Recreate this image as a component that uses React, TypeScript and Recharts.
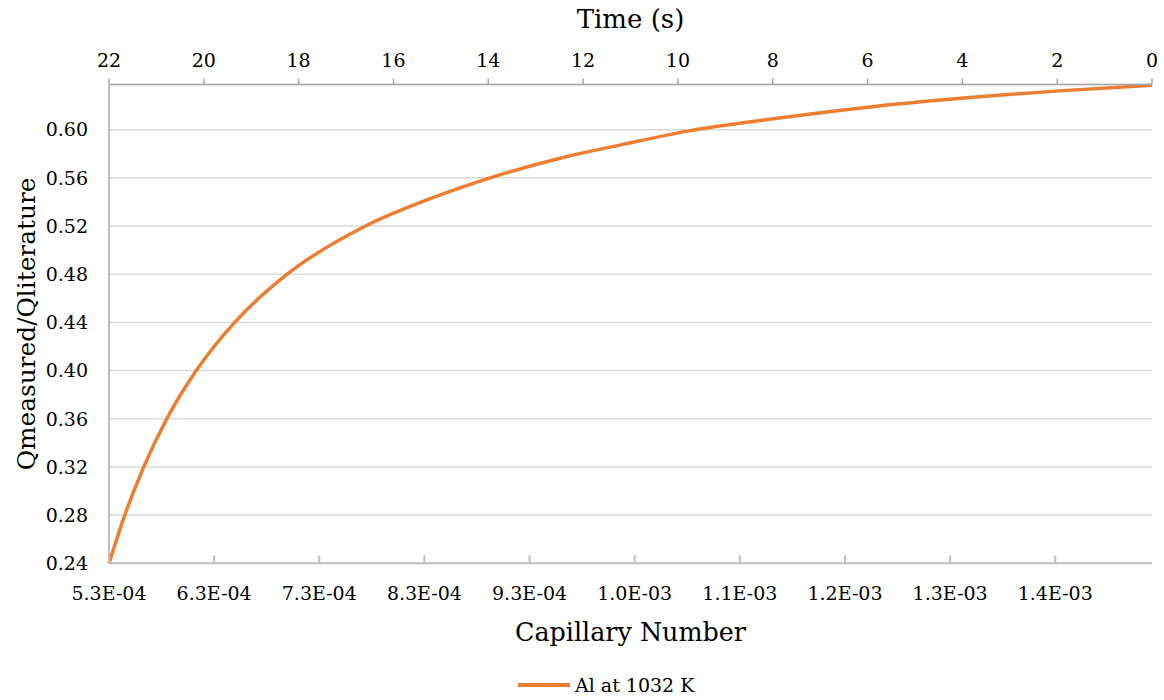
import React from "react";
import {
  LineChart,
  Line,
  XAxis,
  YAxis,
  CartesianGrid,
} from "recharts";

const capillary = [
  5.3e-4, 5.45e-4, 5.63e-4, 5.85e-4, 6.13e-4, 6.495e-4, 6.995e-4, 7.74e-4,
  8.35e-4, 8.925e-4, 9.6e-4, 1.02e-3, 1.083e-3, 1.15e-3, 1.25e-3, 1.34e-3,
  1.43e-3, 1.522e-3,
];
const ratio = [
  0.24, 0.28, 0.32, 0.36, 0.4, 0.44, 0.48, 0.52, 0.5425, 0.56, 0.5765, 0.588,
  0.5992, 0.6077, 0.6185, 0.626, 0.632, 0.6368,
];
const capTicks = [
  5.3e-4, 6.3e-4, 7.3e-4, 8.3e-4, 9.3e-4, 1.03e-3, 1.13e-3, 1.23e-3, 1.33e-3,
  1.43e-3,
];
const timeTicks = [22, 20, 18, 16, 14, 12, 10, 8, 6, 4, 2, 0];
const ratioTicks = [0.24, 0.28, 0.32, 0.36, 0.4, 0.44, 0.48, 0.52, 0.56, 0.6];

const seriesName = "Al at 1032 K";
const FONT = "'DejaVu Serif', serif";
const ORANGE = "#ED7D31";

const data = capillary.map((c, i) => ({ cap: c, q: ratio[i] }));

const sci = (v: number) => {
  const [m, e] = v.toExponential(1).split("e");
  const sign = e[0] === "-" ? "-" : "+";
  const digits = e.replace(/[-+]/, "").padStart(2, "0");
  return `${m}E${sign}${digits}`;
};

const tickStyle = { fontSize: 19, fill: "#000", fontFamily: FONT };

const App: React.FC = () => {
  return (
    <div style={{ position: "absolute", left: 0, top: 0, width: 1164, height: 700, background: "#fff", fontFamily: FONT }}>
      <LineChart
        width={1164}
        height={700}
        data={data}
        margin={{ top: 0, right: 12, bottom: 0, left: 0 }}
      >
        <CartesianGrid
          xAxisId="cap"
          vertical={false}
          stroke="#D9D9D9"
          strokeWidth={1.5}
        />
        <XAxis
          xAxisId="time"
          dataKey="time"
          orientation="top"
          type="number"
          domain={[0, 22]}
          allowDataOverflow
          reversed
          ticks={timeTicks}
          height={84.5}
          stroke="#A6A6A6"
          strokeWidth={1.5}
          tickSize={6}
          tickMargin={12}
          tick={tickStyle}
          label={({ viewBox }: any) => (
            <text
              x={viewBox.x + viewBox.width / 2}
              y={viewBox.y + 28}
              textAnchor="middle"
              fontSize={26}
              fontFamily={FONT}
              fill="#000"
            >
              Time (s)
            </text>
          )}
        />
        <XAxis
          xAxisId="cap"
          dataKey="cap"
          type="number"
          domain={[5.3e-4, 1.522e-3]}
          ticks={capTicks}
          tickFormatter={sci}
          height={136.7}
          stroke="#BFBFBF"
          strokeWidth={2}
          tickSize={-8}
          tickMargin={31}
          tick={tickStyle}
          label={({ viewBox }: any) => (
            <text
              x={viewBox.x + viewBox.width / 2}
              y={viewBox.y + 78}
              textAnchor="middle"
              fontSize={25.4}
              fontFamily={FONT}
              fill="#000"
            >
              Capillary Number
            </text>
          )}
        />
        <YAxis
          type="number"
          domain={[0.24, 0.6375]}
          ticks={ratioTicks}
          tickFormatter={(v: number) => v.toFixed(2)}
          width={109}
          stroke="#BFBFBF"
          strokeWidth={2}
          tickLine={false}
          tickSize={0}
          tickMargin={21}
          tick={tickStyle}
          label={({ viewBox }: any) => {
            const cx = viewBox.x + 27;
            const cy = viewBox.y + viewBox.height / 2;
            return (
              <text
                x={cx}
                y={cy}
                transform={`rotate(-90 ${cx} ${cy})`}
                textAnchor="middle"
                dominantBaseline="central"
                fontSize={24.8}
                fontFamily={FONT}
                fill="#000"
              >
                Qmeasured/Qliterature
              </text>
            );
          }}
        />
        <Line
          xAxisId="cap"
          type="monotone"
          dataKey="q"
          name={seriesName}
          stroke={ORANGE}
          strokeWidth={3.5}
          dot={false}
          activeDot={false}
          isAnimationActive={false}
        />
      </LineChart>
      <div
        style={{
          position: "absolute",
          left: 518,
          top: 671,
          height: 28,
          display: "flex",
          alignItems: "center",
          fontFamily: FONT,
          fontSize: 19,
          color: "#000",
        }}
      >
        <span
          style={{
            display: "inline-block",
            width: 52,
            height: 3.5,
            background: ORANGE,
            marginRight: 5,
          }}
        />
        {seriesName}
      </div>
    </div>
  );
};

export default App;
